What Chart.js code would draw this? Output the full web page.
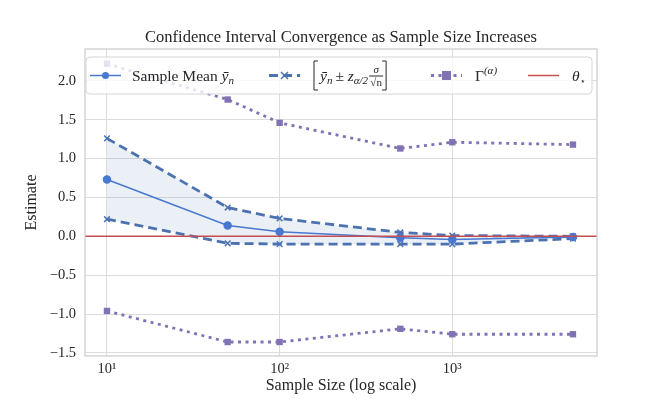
<!DOCTYPE html>
<html>
<head>
<meta charset="utf-8">
<script src="https://cdn.jsdelivr.net/npm/chart.js@4.4.0/dist/chart.umd.min.js"></script>
<style>
  html, body { margin: 0; padding: 0; background: #fff; }
  #wrap { width: 664px; height: 399px; }
</style>
</head>
<body>
<div id="wrap"><canvas id="ciChart" width="664" height="399"></canvas></div>
<script>
// values
const sampleSizes = [10, 50, 100, 500, 1000, 5000];
const sampleMean  = [0.73, 0.14, 0.06, -0.02, -0.04, -0.01];
const ciUpper     = [1.26, 0.37, 0.23, 0.05, 0.01, 0.00];
const ciLower     = [0.22, -0.09, -0.10, -0.10, -0.10, -0.03];
const gammaUpper  = [2.22, 1.76, 1.46, 1.13, 1.21, 1.18];
const gammaLower  = [-0.96, -1.36, -1.36, -1.19, -1.26, -1.26];
const thetaStar   = 0;
const xTicks = [10, 100, 1000];
const xTickLabels = ['10\u00B9', '10\u00B2', '10\u00B3'];
const xRange = [7.46, 6890];
const yRange = [-1.54, 2.41];

const SERIF = '"Liberation Serif", "DejaVu Serif", serif';
const blueMean = '#4878d0';
const blueCI = '#4c72b0';
const purple = '#8172b3';
const red = '#c44e52';

const pts = arr => sampleSizes.map((n, i) => ({x: n, y: arr[i]}));

// draw a run of text pieces: {t, it, s, dy}
function drawRun(ctx, x, y, parts) {
    parts.forEach(p => {
        ctx.font = (p.it ? 'italic ' : '') + p.s + 'px ' + SERIF;
        ctx.fillText(p.t, x, y + (p.dy || 0));
        x += ctx.measureText(p.t).width + (p.gap || 0);
    });
    return x;
}

const titlePlugin = {
    id: 'topTitle',
    afterDraw(chart) {
        const {ctx, chartArea} = chart;
        ctx.save();
        ctx.fillStyle = '#262626';
        ctx.font = '16.5px ' + SERIF;
        ctx.textAlign = 'center';
        ctx.textBaseline = 'middle';
        ctx.fillText('Confidence Interval Convergence as Sample Size Increases', (chartArea.left + chartArea.right) / 2, 38);
        ctx.restore();
    }
};

const framePlugin = {
    id: 'frame',
    afterDatasetsDraw(chart) {
        const {ctx, chartArea: a} = chart;
        ctx.save();
        ctx.strokeStyle = '#cccccc';
        ctx.lineWidth = 1.25;
        ctx.strokeRect(a.left, a.top, a.right - a.left, a.bottom - a.top);
        ctx.restore();
    }
};

const legendPlugin = {
    id: 'innerLegend',
    afterDraw(chart) {
        const ctx = chart.ctx;
        const a = chart.chartArea;
        const bx = a.left + 1, by = 57, bw = 506, bh = 37;
        const cy = by + bh / 2;
        ctx.save();
        ctx.beginPath();
        ctx.roundRect(bx, by, bw, bh, 4);
        ctx.fillStyle = 'rgba(255,255,255,0.8)';
        ctx.fill();
        ctx.strokeStyle = '#d6d6d6';
        ctx.lineWidth = 1;
        ctx.stroke();

        const handle = (x0, color, width, dash) => {
            ctx.beginPath();
            ctx.setLineDash(dash);
            ctx.strokeStyle = color;
            ctx.lineWidth = width;
            ctx.moveTo(x0, cy);
            ctx.lineTo(x0 + 31, cy);
            ctx.stroke();
            ctx.setLineDash([]);
        };
        // sample mean
        handle(90, blueMean, 1.5, []);
        ctx.fillStyle = blueMean;
        ctx.beginPath(); ctx.arc(105.5, cy, 3.5, 0, Math.PI * 2); ctx.fill();
        // CI
        handle(269, blueCI, 2.8, [9, 5]);
        ctx.strokeStyle = blueCI; ctx.lineWidth = 1.5;
        ctx.beginPath();
        ctx.moveTo(281, cy - 3.5); ctx.lineTo(288, cy + 3.5);
        ctx.moveTo(288, cy - 3.5); ctx.lineTo(281, cy + 3.5);
        ctx.stroke();
        // gamma
        handle(431, purple, 2.8, [3, 4.5]);
        ctx.fillStyle = purple;
        ctx.fillRect(442, cy - 4.5, 9, 9);
        // theta
        handle(528, red, 1.5, []);

        ctx.fillStyle = '#262626';
        ctx.textBaseline = 'alphabetic';
        const base = cy + 5;
        drawRun(ctx, 132, base, [
            {t: 'Sample Mean ', s: 15.5},
            {t: '\u0233', it: true, s: 15.5},
            {t: 'n', it: true, s: 11, dy: 3}
        ]);

        // [ y_n ± z_{α/2} σ/√n ]
        ctx.strokeStyle = '#262626';
        ctx.lineWidth = 1;
        ctx.beginPath();
        ctx.moveTo(318, by + 4); ctx.lineTo(314, by + 4); ctx.lineTo(314, by + bh - 4); ctx.lineTo(318, by + bh - 4);
        ctx.stroke();
        let x = drawRun(ctx, 320, base, [
            {t: '\u0233', it: true, s: 15.5},
            {t: 'n', it: true, s: 11, dy: 3, gap: 3},
            {t: '\u00B1 ', s: 15.5},
            {t: 'z', it: true, s: 15.5},
            {t: '\u03B1/2', it: true, s: 11, dy: 3, gap: 1}
        ]);
        ctx.font = 'italic 11px ' + SERIF;
        ctx.textAlign = 'center';
        ctx.fillText('\u03C3', x + 7, cy - 3);
        ctx.font = '11px ' + SERIF;
        ctx.fillText('\u221An', x + 7, cy + 10);
        ctx.textAlign = 'left';
        ctx.beginPath();
        ctx.moveTo(x, cy + 0.5); ctx.lineTo(x + 14, cy + 0.5);
        ctx.stroke();
        const rb = x + 17;
        ctx.beginPath();
        ctx.moveTo(rb - 4, by + 4); ctx.lineTo(rb, by + 4); ctx.lineTo(rb, by + bh - 4); ctx.lineTo(rb - 4, by + bh - 4);
        ctx.stroke();

        drawRun(ctx, 475, base, [
            {t: '\u0393', s: 15.5},
            {t: '(\u03B1)', it: true, s: 11, dy: -7}
        ]);
        drawRun(ctx, 572, base, [
            {t: '\u03B8', it: true, s: 15.5},
            {t: '\u22C6', s: 9, dy: 3}
        ]);
        ctx.restore();
    }
};

const lineDefaults = {showLine: true, tension: 0, fill: false};

new Chart(document.getElementById('ciChart'), {
    type: 'scatter',
    data: {
        datasets: [
            Object.assign({}, lineDefaults, {
                label: 'Sample Mean',
                data: pts(sampleMean),
                borderColor: blueMean, backgroundColor: blueMean,
                borderWidth: 1.5, pointStyle: 'circle', pointRadius: 3.5,
                order: 2
            }),
            Object.assign({}, lineDefaults, {
                label: 'CI upper',
                data: pts(ciUpper),
                borderColor: blueCI, pointBorderColor: blueCI,
                backgroundColor: 'rgba(76,114,176,0.11)',
                borderWidth: 2.8, borderDash: [9, 5],
                pointStyle: 'crossRot', pointRadius: 4, pointBorderWidth: 1.5,
                fill: '+1', order: 3
            }),
            Object.assign({}, lineDefaults, {
                label: 'CI lower',
                data: pts(ciLower),
                borderColor: blueCI, pointBorderColor: blueCI,
                borderWidth: 2.8, borderDash: [9, 5],
                pointStyle: 'crossRot', pointRadius: 4, pointBorderWidth: 1.5,
                order: 3
            }),
            Object.assign({}, lineDefaults, {
                label: 'Gamma upper',
                data: pts(gammaUpper),
                borderColor: purple, backgroundColor: purple,
                borderWidth: 2.8, borderDash: [3, 4.5],
                pointStyle: 'rect', pointRadius: 4.5, pointBorderWidth: 0,
                order: 4
            }),
            Object.assign({}, lineDefaults, {
                label: 'Gamma lower',
                data: pts(gammaLower),
                borderColor: purple, backgroundColor: purple,
                borderWidth: 2.8, borderDash: [3, 4.5],
                pointStyle: 'rect', pointRadius: 4.5, pointBorderWidth: 0,
                order: 4
            }),
            Object.assign({}, lineDefaults, {
                label: 'theta',
                data: xRange.map(v => ({x: v, y: thetaStar})),
                borderColor: red, borderWidth: 1.5, pointRadius: 0,
                order: 1
            })
        ]
    },
    options: {
        responsive: false,
        animation: false,
        layout: {padding: {top: 49, right: 67, left: 0, bottom: 0}},
        plugins: {
            legend: {display: false},
            title: {display: false},
            tooltip: {enabled: false}
        },
        scales: {
            x: {
                type: 'logarithmic',
                min: xRange[0], max: xRange[1],
                afterBuildTicks: scale => { scale.ticks = xTicks.map(v => ({value: v, major: true})); },
                afterFit: scale => { scale.height = 43; },
                ticks: {
                    autoSkip: false, maxRotation: 0, padding: 4,
                    color: '#262626', font: {family: SERIF, size: 14.5},
                    callback: v => xTickLabels[xTicks.indexOf(v)] ?? ''
                },
                grid: {color: '#dcdcdc', lineWidth: 1, drawTicks: false},
                border: {display: false},
                title: {display: true, text: 'Sample Size (log scale)', color: '#262626',
                        font: {family: SERIF, size: 16}, padding: {top: 4, bottom: 4}}
            },
            y: {
                min: yRange[0], max: yRange[1],
                afterFit: scale => { scale.width = 85; },
                ticks: {
                    stepSize: 0.5, includeBounds: false, padding: 9,
                    color: '#262626', font: {family: SERIF, size: 14.5},
                    callback: v => v.toFixed(1).replace('-', '\u2212')
                },
                grid: {color: '#dcdcdc', lineWidth: 1, drawTicks: false},
                border: {display: false},
                title: {display: true, text: 'Estimate', color: '#262626',
                        font: {family: SERIF, size: 16}, padding: {top: 22, bottom: 22}}
            }
        }
    },
    plugins: [titlePlugin, framePlugin, legendPlugin]
});
</script>
</body>
</html>
